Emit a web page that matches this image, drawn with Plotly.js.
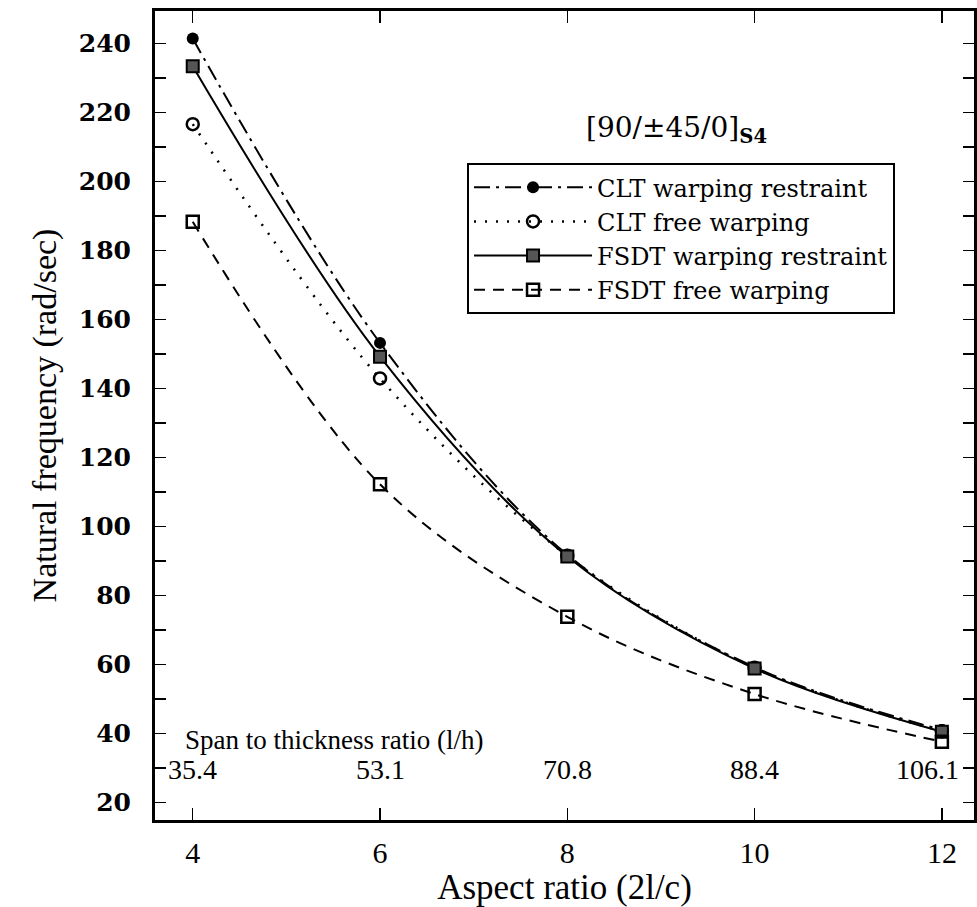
<!DOCTYPE html>
<html>
<head>
<meta charset="utf-8">
<script src="https://cdn.plot.ly/plotly-3.0.1.min.js"></script>
<style>html,body{margin:0;padding:0;background:#fff;}#chart{width:977px;height:907px;}</style>
</head>
<body>
<div id="chart"></div>
<script>
// Data
const aspectRatio = [4, 6, 8, 10, 12];
const spanRatioLabels = ["35.4", "53.1", "70.8", "88.4", "106.1"];
const cltRestraint = [241.4, 153.2, 91.8, 59.2, 41.0];
const cltFree = [216.6, 142.9, 91.5, 59.0, 40.6];
const fsdtRestraint = [233.4, 149.2, 91.3, 58.8, 40.5];
const fsdtFree = [188.3, 112.2, 73.8, 51.4, 37.6];
const seriesNames = ["CLT warping restraint", "CLT free warping", "FSDT warping restraint", "FSDT free warping"];

const serif = "'Liberation Serif', 'Times New Roman', serif";
const wide = "'DejaVu Serif', serif";

const traces = [
  {x: aspectRatio, y: cltRestraint, name: seriesNames[0], mode: "lines+markers",
   line: {color: "black", width: 2, dash: "16px,6px,3px,6px", shape: "spline", smoothing: 1},
   marker: {symbol: "circle", size: 12, color: "black"}},
  {x: aspectRatio, y: cltFree, name: seriesNames[1], mode: "lines+markers",
   line: {color: "black", width: 2.5, dash: "2px,9px", shape: "spline", smoothing: 1},
   marker: {symbol: "circle-open", size: 12, color: "black", line: {width: 2.5}}},
  {x: aspectRatio, y: fsdtRestraint, name: seriesNames[2], mode: "lines+markers",
   line: {color: "black", width: 2, shape: "spline", smoothing: 1},
   marker: {symbol: "square", size: 12, color: "#555", line: {color: "black", width: 2}}},
  {x: aspectRatio, y: fsdtFree, name: seriesNames[3], mode: "lines+markers",
   line: {color: "black", width: 2, dash: "11px,8px", shape: "spline", smoothing: 1},
   marker: {symbol: "square-open", size: 12, color: "black", line: {width: 2.5}}}
];

const annotations = aspectRatio.map((xv, i) => ({
  x: xv, xref: "x", y: 0.062, yref: "paper", text: spanRatioLabels[i], showarrow: false,
  xanchor: "center", yanchor: "middle", xshift: i === aspectRatio.length - 1 ? -14 : 0,
  font: {family: serif, size: 28, color: "black"}
}));
annotations.push({
  x: 0.034, xref: "paper", y: 0.099, yref: "paper", text: "Span to thickness ratio (l/h)",
  showarrow: false, xanchor: "left", yanchor: "middle",
  font: {family: serif, size: 27, color: "black"}
});
annotations.push({
  x: 0.524, xref: "paper", y: 0.853, yref: "paper", text: "[90/±45/0]<sub><b>S4</b></sub>",
  showarrow: false, xanchor: "left", yanchor: "middle",
  font: {family: wide, size: 28, color: "black"}
});

const layout = {
  width: 977, height: 907,
  margin: {l: 155, r: 3, t: 11, b: 87},
  paper_bgcolor: "white", plot_bgcolor: "white",
  showlegend: true,
  legend: {x: 0.381, y: 0.812, xanchor: "left", yanchor: "top",
    bordercolor: "black", borderwidth: 2, bgcolor: "white",
    font: {family: wide, size: 24, color: "black"}, tracegroupgap: 0, itemwidth: 118},
  xaxis: {range: [3.597, 12.343], tickvals: aspectRatio, ticks: "inside", ticklen: 12,
    tickwidth: 1.5, tickcolor: "black", showline: true, linewidth: 3, linecolor: "black",
    mirror: "ticks", showgrid: false, zeroline: false,
    tickfont: {family: serif, size: 30, color: "black"}, ticklabelstandoff: 4,
    title: {text: "Aspect ratio (2l/c)", font: {family: serif, size: 35, color: "black"}, standoff: 0}},
  yaxis: {range: [14.9, 249.4], tick0: 20, dtick: 20, ticks: "inside", ticklen: 11,
    tickwidth: 1.5, tickcolor: "black", showline: true, linewidth: 3, linecolor: "black",
    mirror: "ticks", showgrid: false, zeroline: false,
    minor: {dtick: 10, tick0: 20, ticks: "inside", ticklen: 11, tickwidth: 1.5, tickcolor: "black", showgrid: false},
    tickfont: {family: wide, size: 25, color: "black", weight: "bold"}, ticklabelstandoff: 16,
    title: {text: "Natural frequency (rad/sec)", font: {family: serif, size: 34, color: "black"}, standoff: 12}},
  annotations: annotations
};

Plotly.newPlot("chart", traces, layout, {displayModeBar: false, staticPlot: true});
</script>
</body>
</html>
